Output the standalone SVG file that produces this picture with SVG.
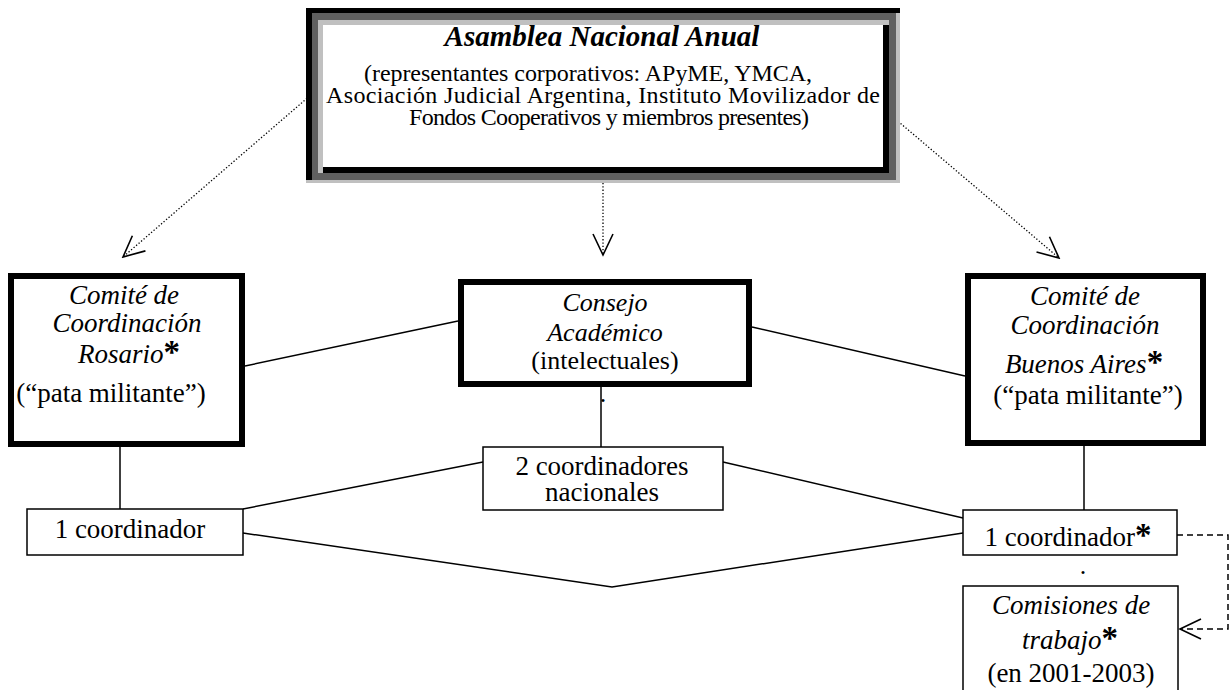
<svg xmlns="http://www.w3.org/2000/svg" width="1231" height="690" viewBox="0 0 1231 690">
  <style>
    text { font-family: "Liberation Serif", "Times New Roman", serif; fill: #000; text-anchor: middle; }
    .it { font-style: italic; }
    .ttl { font-style: italic; font-weight: bold; font-size: 29px; }
    .body { font-size: 24px; text-anchor: start; }
    .b26 { font-size: 26px; }
    .b27 { font-size: 27px; }
    .ast { font-weight: bold; font-size: 33px; font-style: normal; }
    .thick { fill: #fff; stroke: #000; stroke-width: 6; }
    .thin { fill: #fff; stroke: #000; stroke-width: 1.5; }
    .link { fill: none; stroke: #000; stroke-width: 1.5; }
    .dot { fill: none; stroke: #000; stroke-width: 1.3; stroke-dasharray: 1.3 2; }
    .dash { fill: none; stroke: #000; stroke-width: 1.5; stroke-dasharray: 6 4; }
  </style>
  <defs>
    <marker id="open" markerUnits="userSpaceOnUse" viewBox="-1 -12 24 24" markerWidth="24" markerHeight="24" refX="21" refY="0" orient="auto">
      <path d="M0,-10 L21,0 L0,10" fill="none" stroke="#000" stroke-width="1.6"/>
    </marker>
  </defs>

  <rect width="1231" height="690" fill="#fff"/>

  <!-- connectors -->
  <g id="connectors">
    <line class="dot" x1="312" y1="94" x2="123" y2="257" marker-end="url(#open)"/>
    <line class="dot" x1="603" y1="183" x2="603" y2="255" marker-end="url(#open)"/>
    <line class="dot" x1="893" y1="117" x2="1059" y2="258" marker-end="url(#open)"/>
    <line class="link" x1="245" y1="366" x2="458" y2="321"/>
    <line class="link" x1="752" y1="327" x2="965" y2="376"/>
    <line class="link" x1="601" y1="387" x2="601" y2="447"/>
    <line class="link" x1="120" y1="447" x2="120" y2="512"/>
    <line class="link" x1="1084" y1="446" x2="1084" y2="512"/>
    <line class="link" x1="483" y1="462" x2="243" y2="509"/>
    <line class="link" x1="723" y1="462" x2="963" y2="518"/>
    <polyline class="link" points="243,533 612,587 963,533"/>
    <polyline class="dash" points="1177,535 1228,535 1228,629 1180,629" marker-end="url(#open)"/>
  </g>

  <!-- Asamblea Nacional Anual (3D double frame) -->
  <g id="asamblea">
    <rect x="306" y="8" width="594" height="175" fill="#c0c0c0"/>
    <rect x="306" y="8" width="590" height="172" fill="#606060"/>
    <rect x="306" y="8" width="594" height="5" fill="#000"/>
    <rect x="306" y="8" width="6" height="172" fill="#000"/>
    <rect x="318" y="20" width="571" height="153" fill="#c0c0c0"/>
    <rect x="323" y="25" width="566" height="148" fill="#000"/>
    <rect x="323" y="25" width="560" height="142" fill="#fff"/>
    <text class="ttl" x="602" y="46">Asamblea Nacional Anual</text>
    <text class="body" x="364" y="81" textLength="448">(representantes corporativos: APyME, YMCA,</text>
    <text class="body" x="326" y="103" textLength="554">Asociación Judicial Argentina, Instituto Movilizador de</text>
    <text class="body" x="409" y="125" textLength="400">Fondos Cooperativos y miembros presentes)</text>
  </g>

  <!-- Comité de Coordinación Rosario -->
  <g id="comite-rosario">
    <rect class="thick" x="11" y="276" width="231" height="168"/>
    <text class="b27 it" x="124" y="304">Comité de</text>
    <text class="b27 it" x="127" y="332">Coordinación</text>
    <text class="b27 it" x="129" y="363">Rosario<tspan class="ast">*</tspan></text>
    <text class="b27" x="111" y="402">(“pata militante”)</text>
  </g>

  <!-- Consejo Académico -->
  <g id="consejo">
    <rect class="thick" x="461" y="282" width="288" height="102"/>
    <text class="b26 it" x="605" y="311">Consejo</text>
    <text class="b26 it" x="605" y="341">Académico</text>
    <text class="b26" x="605" y="369">(intelectuales)</text>
    <text class="b26" x="603" y="402">.</text>
  </g>

  <!-- Comité de Coordinación Buenos Aires -->
  <g id="comite-ba">
    <rect class="thick" x="968" y="276" width="235" height="167"/>
    <text class="b27 it" x="1085" y="305">Comité de</text>
    <text class="b27 it" x="1085" y="334">Coordinación</text>
    <text class="b27 it" x="1084" y="373">Buenos Aires<tspan class="ast">*</tspan></text>
    <text class="b27" x="1088" y="404">(“pata militante”)</text>
  </g>

  <!-- 2 coordinadores nacionales -->
  <g id="coord-nacionales">
    <rect class="thin" x="483" y="447" width="240" height="63"/>
    <text class="b27" x="602" y="475">2 coordinadores</text>
    <text class="b27" x="602" y="501">nacionales</text>
  </g>

  <!-- 1 coordinador (Rosario) -->
  <g id="coord-rosario">
    <rect class="thin" x="27" y="509" width="216" height="46"/>
    <text class="b27" x="130" y="538">1 coordinador</text>
  </g>

  <!-- 1 coordinador (Buenos Aires) -->
  <g id="coord-ba">
    <rect class="thin" x="963" y="510" width="214" height="45"/>
    <text class="b27" x="1068" y="546">1 coordinador<tspan class="ast">*</tspan></text>
    <text class="b26" x="1083" y="574">.</text>
  </g>

  <!-- Comisiones de trabajo -->
  <g id="comisiones">
    <rect class="thin" x="963" y="586" width="215" height="120"/>
    <text class="b27 it" x="1071" y="614">Comisiones de</text>
    <text class="b27 it" x="1070" y="649">trabajo<tspan class="ast">*</tspan></text>
    <text class="b27" x="1071" y="682">(en 2001-2003)</text>
  </g>
</svg>
